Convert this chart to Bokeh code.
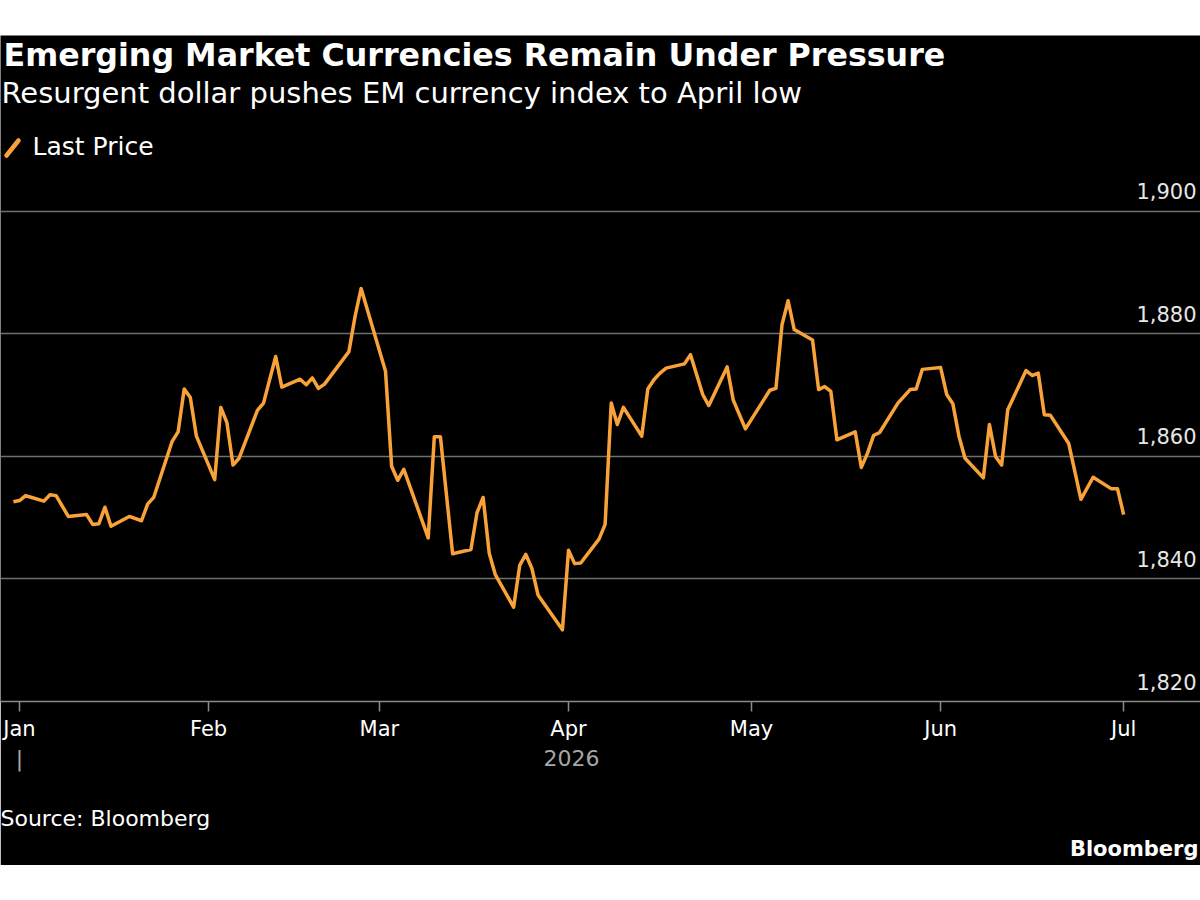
from datetime import datetime, timedelta
from bokeh.plotting import figure
from bokeh.models import (Range1d, FixedTicker, DatetimeAxis, Label, Arrow, Title,
                          Spacer, ColumnDataSource, Grid)
from bokeh.layouts import column
from bokeh.embed import file_html
from bokeh.resources import INLINE
from bokeh.core.properties import value

# ---------------- data ----------------
dates = [
    "2025-12-31", "2026-01-01", "2026-01-02", "2026-01-03", "2026-01-05", "2026-01-06",
    "2026-01-07", "2026-01-09", "2026-01-12", "2026-01-13", "2026-01-14", "2026-01-15",
    "2026-01-16", "2026-01-19", "2026-01-21", "2026-01-22", "2026-01-23", "2026-01-26",
    "2026-01-27", "2026-01-28", "2026-01-29", "2026-01-30", "2026-02-02", "2026-02-03",
    "2026-02-04", "2026-02-05", "2026-02-06", "2026-02-09", "2026-02-10", "2026-02-12",
    "2026-02-13", "2026-02-16", "2026-02-17", "2026-02-18", "2026-02-19", "2026-02-20",
    "2026-02-24", "2026-02-25", "2026-02-26", "2026-03-02", "2026-03-03", "2026-03-04",
    "2026-03-05", "2026-03-09", "2026-03-10", "2026-03-11", "2026-03-13", "2026-03-16",
    "2026-03-17", "2026-03-18", "2026-03-19", "2026-03-20", "2026-03-23", "2026-03-24",
    "2026-03-25", "2026-03-26", "2026-03-27", "2026-03-31", "2026-04-01", "2026-04-02",
    "2026-04-03", "2026-04-06", "2026-04-07", "2026-04-08", "2026-04-09", "2026-04-10",
    "2026-04-13", "2026-04-14", "2026-04-15", "2026-04-16", "2026-04-17", "2026-04-20",
    "2026-04-21", "2026-04-23", "2026-04-24", "2026-04-27", "2026-04-28", "2026-04-30",
    "2026-05-04", "2026-05-05", "2026-05-06", "2026-05-07", "2026-05-08", "2026-05-11",
    "2026-05-12", "2026-05-13", "2026-05-14", "2026-05-15", "2026-05-18", "2026-05-19",
    "2026-05-20", "2026-05-21", "2026-05-22", "2026-05-25", "2026-05-26", "2026-05-27",
    "2026-05-28", "2026-05-29", "2026-06-01", "2026-06-02", "2026-06-03", "2026-06-04",
    "2026-06-05", "2026-06-08", "2026-06-09", "2026-06-10", "2026-06-11", "2026-06-12",
    "2026-06-15", "2026-06-16", "2026-06-17", "2026-06-18", "2026-06-19", "2026-06-22",
    "2026-06-24", "2026-06-26", "2026-06-29", "2026-06-30", "2026-07-01",
]
last_price = [
    1852.6, 1852.8, 1853.6, 1853.3, 1852.7, 1853.75,
    1853.6, 1850.2, 1850.5, 1848.9, 1849.0, 1851.7,
    1848.6, 1850.2, 1849.5, 1852.2, 1853.3, 1862.4,
    1864.0, 1871.0, 1869.6, 1863.3, 1856.2, 1868.0,
    1865.5, 1858.6, 1859.7, 1867.5, 1868.7, 1876.3,
    1871.3, 1872.6, 1871.7, 1872.8, 1871.1, 1871.8,
    1877.1, 1882.8, 1887.4, 1873.9, 1858.4, 1856.1,
    1857.9, 1846.7, 1863.2, 1863.2, 1844.1, 1844.8,
    1850.8, 1853.3, 1844.2, 1840.7, 1835.4, 1842.2,
    1844.0, 1841.7, 1837.4, 1831.7, 1844.7, 1842.5,
    1842.6, 1846.5, 1848.9, 1868.7, 1865.2, 1868.0,
    1863.3, 1871.0, 1872.5, 1873.6, 1874.4, 1875.1,
    1876.6, 1870.1, 1868.3, 1874.6, 1869.2, 1864.5,
    1870.8, 1871.1, 1881.5, 1885.4, 1880.7, 1879.0,
    1870.9, 1871.4, 1870.6, 1862.7, 1864.0, 1858.2,
    1860.5, 1863.4, 1863.9, 1868.7, 1869.8, 1870.9,
    1871.0, 1874.2, 1874.5, 1870.1, 1868.6, 1863.3,
    1859.7, 1856.5, 1865.2, 1860.0, 1858.6, 1867.6,
    1874.0, 1873.2, 1873.6, 1866.8, 1866.7, 1862.1,
    1853.0, 1856.6, 1854.7, 1854.7, 1850.5,
]
month_starts = ["2026-01-01", "2026-02-01", "2026-03-01", "2026-04-01",
                "2026-05-01", "2026-06-01", "2026-07-01"]
month_labels = ["Jan", "Feb", "Mar", "Apr", "May", "Jun", "Jul"]
year_label = "2026"
y_ticks = [1820, 1840, 1860, 1880, 1900]
y_tick_labels = ["1,820", "1,840", "1,860", "1,880", "1,900"]

title_text = "Emerging Market Currencies Remain Under Pressure"
subtitle_text = "Resurgent dollar pushes EM currency index to April low"
legend_text = "Last Price"
source_text = "Source: Bloomberg"
brand_text = "Bloomberg"

# ---------------- styling ----------------
FONT = "DejaVu Sans"
ORANGE = "#F9A23A"
GRID = "#6f6f6f"
AXIS = "#8a8a8a"

def ms(d):
    return (d - datetime(1970, 1, 1)).total_seconds() * 1000.0

xs = [datetime.strptime(d, "%Y-%m-%d") for d in dates]
jan1 = datetime.strptime(month_starts[0], "%Y-%m-%d")
x_start = jan1 - timedelta(days=3.115)
x_end = jan1 + timedelta(days=193.6)
y_end = 1900 + 176 / 6.135

p = figure(width=1200, height=830, x_axis_type="datetime", y_axis_location=None,
           x_range=Range1d(x_start, x_end), y_range=Range1d(1820, y_end),
           output_backend="svg", toolbar_location=None,
           background_fill_color="black", border_fill_color="black",
           outline_line_color=None, min_border_left=0, min_border_right=0,
           min_border_top=0, min_border_bottom=163)

for g in p.grid:
    g.visible = False
p.add_layout(Grid(dimension=1, ticker=FixedTicker(ticks=y_ticks[1:]),
                  grid_line_color=GRID, grid_line_width=1.5))

# main x axis
tick_ms = [ms(datetime.strptime(d, "%Y-%m-%d")) for d in month_starts]
ax = p.xaxis[0]
ax.ticker = FixedTicker(ticks=tick_ms)
ax.major_label_overrides = {t: l for t, l in zip(tick_ms, month_labels)}
ax.axis_line_color = AXIS
ax.axis_line_width = 1.5
ax.major_tick_line_color = AXIS
ax.major_tick_line_width = 1.5
ax.major_tick_out = 10
ax.major_tick_in = 0
ax.minor_tick_line_color = None
ax.minor_tick_out = 0
ax.minor_tick_in = 0
ax.major_label_standoff = 5
ax.major_label_text_font = FONT
ax.major_label_text_font_size = "21px"
ax.major_label_text_color = "white"

# year axis
mid_ms = (tick_ms[0] + tick_ms[-1]) / 2
ax2 = DatetimeAxis(ticker=FixedTicker(ticks=[tick_ms[0], mid_ms]),
                   major_label_overrides={tick_ms[0]: "|", mid_ms: year_label},
                   axis_line_color=None, major_tick_line_color=None,
                   major_tick_out=0, major_tick_in=0,
                   minor_tick_line_color=None, minor_tick_out=0, minor_tick_in=0,
                   major_label_standoff=2,
                   major_label_text_font=FONT, major_label_text_font_size="22px",
                   major_label_text_color="#a6a6a6")
p.add_layout(ax2, "below")

# line
src = ColumnDataSource(dict(x=xs, y=last_price))
p.line("x", "y", source=src, line_color=ORANGE, line_width=3.5, line_join="round")

# y tick labels (inside, right aligned above gridlines)
ysrc = ColumnDataSource(dict(x=[x_end] * len(y_ticks), y=y_ticks, t=y_tick_labels))
p.text("x", "y", text="t", source=ysrc, text_align="right", text_baseline="bottom",
       x_offset=-4, y_offset=-12, text_font=value(FONT), text_font_size="21px",
       text_color="#e6e6e6")

# header
p.add_layout(Label(x=3, y=647, x_units="screen", y_units="screen", text=title_text,
                   text_font=FONT, text_font_style="bold", text_font_size="31.7px",
                   text_color="white", text_baseline="middle"))
p.add_layout(Label(x=1, y=609, x_units="screen", y_units="screen", text=subtitle_text,
                   text_font=FONT, text_font_size="29px",
                   text_color="white", text_baseline="middle"))
p.add_layout(Label(x=32, y=555, x_units="screen", y_units="screen", text=legend_text,
                   text_font=FONT, text_font_size="25px",
                   text_color="white", text_baseline="middle"))
p.add_layout(Arrow(x_start=6, y_start=546, x_end=18, y_end=561,
                   start_units="screen", end_units="screen", end=None,
                   line_color=ORANGE, line_width=4.5, line_cap="round"))

# footer (stacked below the axes)
p.add_layout(Title(text=" ", text_font_size="2px", standoff=26), "below")
p.add_layout(Title(text=source_text, align="left", text_font=FONT, text_font_size="22px",
                   text_font_style="normal", text_color="white", offset=0, standoff=0),
             "below")
p.add_layout(Title(text=brand_text, align="right", text_font=FONT, text_font_size="21px",
                   text_font_style="bold", text_color="white", offset=2, standoff=9),
             "below")

layout = column(Spacer(width=1200, height=35), p, spacing=0)
open("out.html", "w").write(file_html(layout, INLINE, title="EM Currencies"))
